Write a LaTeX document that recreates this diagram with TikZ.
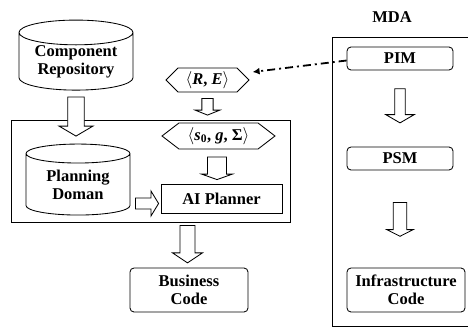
\documentclass[tikz,border=0pt]{standalone}
\usepackage{fontspec}
\setmainfont{Liberation Serif}
\usetikzlibrary{shapes.geometric,shapes.symbols,calc,arrows.meta}

\tikzset{
  lbl/.style={font=\fontsize{16.5}{18}\selectfont\bfseries, align=center},
  box/.style={draw, line width=0.85pt, lbl, inner sep=0pt},
  rbox/.style={box, rounded corners=4pt},
  db/.style={box, cylinder, shape border rotate=90, aspect=0.3},
  hexa/.style={box, signal, signal to=west and east},
  blockarrow/.style={draw, line width=0.85pt, fill=white, line join=miter},
  trace/.style={line width=1.8pt, dash pattern=on 8pt off 4pt on 2pt off 4pt,
    -{Latex[length=7pt,width=7pt]}}
}

% hollow block arrow pointing down: start, tip, shaft half width, head half width, head length
\newcommand\hollowdown[5]{%
  \draw[blockarrow] let \p1=(#1), \p2=(#2) in
    (\x1-#3pt,\y1) -- (\x1+#3pt,\y1) -- (\x1+#3pt,\y2+#5pt) -- (\x1+#4pt,\y2+#5pt)
    -- (\x1,\y2) -- (\x1-#4pt,\y2+#5pt) -- (\x1-#3pt,\y2+#5pt) -- cycle;}
% hollow block arrow pointing right
\newcommand\hollowright[5]{%
  \draw[blockarrow] let \p1=(#1), \p2=(#2) in
    (\x1,\y1+#3pt) -- (\x2-#5pt,\y1+#3pt) -- (\x2-#5pt,\y1+#4pt) -- (\x2,\y1)
    -- (\x2-#5pt,\y1-#4pt) -- (\x2-#5pt,\y1-#3pt) -- (\x1,\y1-#3pt) -- cycle;}

\begin{document}
\begin{tikzpicture}[x=1pt,y=-1pt]
\useasboundingbox (0,0) rectangle (468,329);
\clip (0,0) rectangle (468,329);

% planning side
\node[db, minimum width=114pt, minimum height=67pt] (repo) at (76,61.5) {Component\\Repository};
\node[box, minimum width=279pt, minimum height=102pt] (plan) at (150.5,171) {};
\node[db, minimum width=104pt, minimum height=71pt] (pd) at (78,184.5) {Planning\\Doman};
\node[hexa, minimum width=83pt, minimum height=24pt] (re) at (207.5,80) {$\langle$\textit{R}, \textit{E}$\rangle$};
\node[hexa, signal pointer angle=75, minimum width=113pt, minimum height=26pt] (s) at (218.5,136) {$\langle$\textit{s}\textsubscript{0}, \textit{g}, Σ$\rangle$};
\node[box, minimum width=121pt, minimum height=29pt] (ai) at (221.5,198.5) {AI Planner};
\node[rbox, minimum width=118pt, minimum height=44pt] (biz) at (189,290) {Business\\Code};

% MDA side
\node[lbl] (mda) at (392,17) {MDA};
\node[box, anchor=north west, minimum width=148pt, minimum height=288.5pt] (mdabox) at (332,37) {};
\node[rbox, minimum width=106pt, minimum height=23pt] (pim) at (400,58.5) {PIM};
\node[rbox, minimum width=106pt, minimum height=23pt] (psm) at (400,158.5) {PSM};
\node[rbox, minimum width=118pt, minimum height=44pt] (infra) at (406,290) {Infrastructure\\Code};

% block arrows
\hollowdown{$(repo.south)+(0,6.5)$}{$(plan.north)+(0,16.5)$}{8.3}{17}{10}
\hollowdown{$(re.south)+(0,6)$}{$(s.north)+(0,-7.5)$}{5.6}{12.5}{5}
\hollowdown{$(s.south)+(-1.5,7.5)$}{$(ai.north)+(0,-4)$}{9.5}{15.5}{5.5}
\hollowright{$(pd.east |- ai.center)+(5,5)$}{$(ai.west)+(-2,0)$}{5.5}{12.5}{7.6}
\hollowdown{$(biz.north |- plan.south)+(-1.5,3)$}{$(biz.north)+(0,-4.7)$}{7.5}{15}{10}
\hollowdown{$(pim.south)+(0,18.3)$}{$(psm.north)+(0,-23.7)$}{5.3}{14.3}{8.3}
\hollowdown{$(psm.south)+(0,32)$}{$(infra.north)+(0,-31.3)$}{6.7}{13.3}{6.7}

% dash-dotted link from PIM to the requirements
\coordinate (reIn) at ($(re.east)+(3,-8)$);
\draw[trace] ($(pim.west)+(0,2)$) -- (reIn);
\end{tikzpicture}
\end{document}
